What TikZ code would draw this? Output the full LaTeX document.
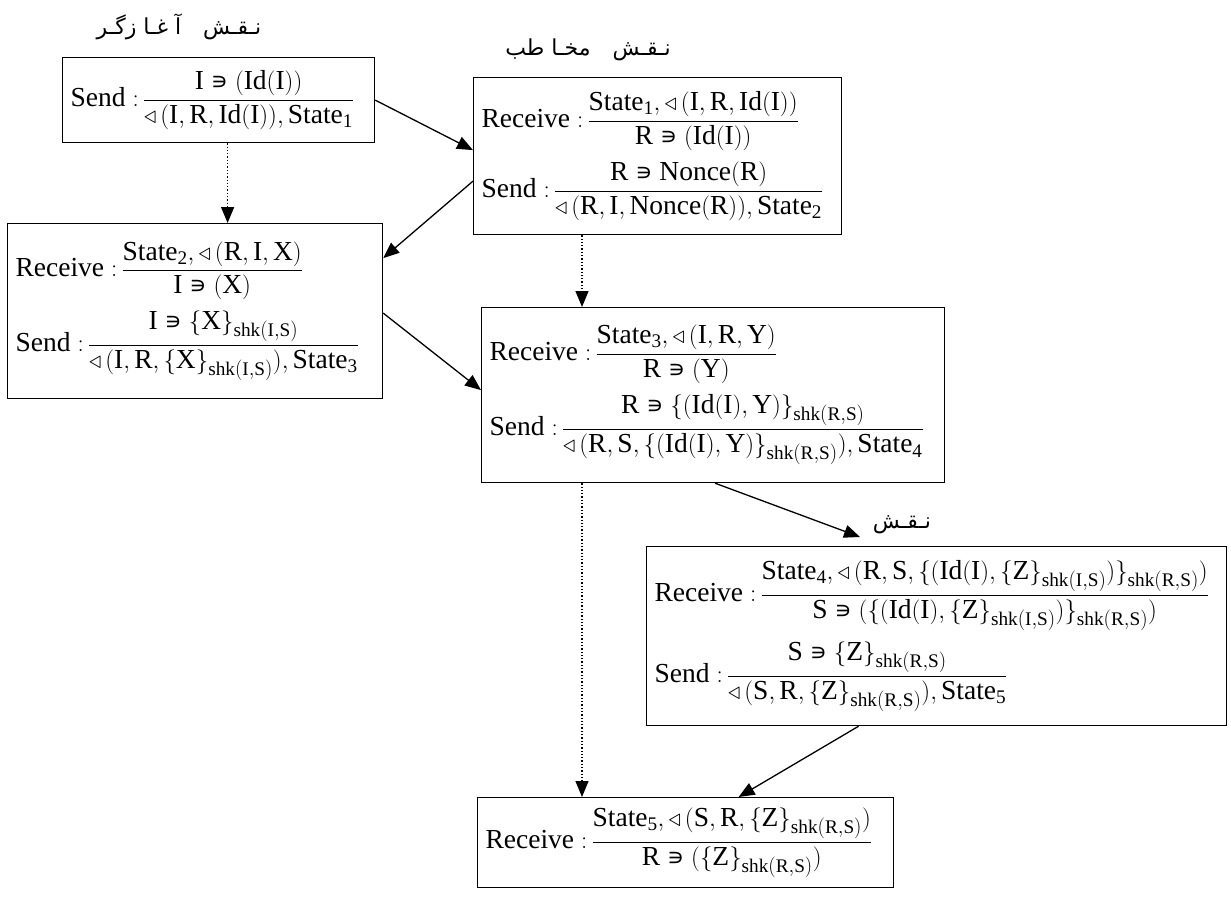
\documentclass[tikz,border=0pt]{standalone}
\usepackage{amsmath}
\usepackage{fontspec}
\setmainfont{Liberation Serif}
\newfontfamily\arabicfont[Script=Arabic]{DejaVu Sans}
\newfontfamily\symfont{DejaVu Sans}
\TeXXeTstate=1
\usetikzlibrary{arrows.meta}
\newcommand{\hasmem}{\mathrel{\mbox{\symfont\fontsize{24}{28}\selectfont ∍}}}
\newcommand{\sendto}{\mathord{\triangleleft}\,}
\newcommand{\msgrule}[3]{$\mathrm{#1}\;{:}\,\dfrac{\mathrm{#2}}{\mathrm{#3}}$}

\begin{document}
\begin{tikzpicture}[x=1pt, y=-1pt,
    rulebox/.style={draw, line width=1.2pt, anchor=north west, align=left,
        inner xsep=8pt, font=\fontsize{27.5}{32}\selectfont},
    msg/.style={-{Triangle[length=16pt,width=13pt]}, line width=1.3pt},
    order/.style={msg, dotted},
    rolelabel/.style={font=\arabicfont\fontsize{22}{26}\selectfont}]
    \useasboundingbox (0,0) rectangle (1231,900);

    % Initiator role
    \node[rolelabel] (initlabel) at (179,27) {\beginR نـقـش\quad آ غـا زگـر\endR};
    \node[rulebox, text width=296pt, minimum height=85pt] (initsend) at (62,57)
        {\msgrule{Send}{I \hasmem (Id(I))}{\sendto(I, R, Id(I)), State_1}};
    \node[rulebox, text width=359pt, minimum height=175pt] (initrecv) at (7,223)
        {\msgrule{Receive}{State_2, \sendto(R, I, X)}{I \hasmem (X)}\\[10pt]
         \msgrule{Send}{I \hasmem \{X\}_{shk(I,S)}}{\sendto(I, R, \{X\}_{shk(I,S)}), State_3}};

    % Responder role
    \node[rolelabel] (resplabel) at (588,50) {\beginR نـقـش\quad مخـا طب\endR};
    \node[rulebox, text width=352pt, minimum height=157pt] (respfirst) at (473,77)
        {\msgrule{Receive}{State_1, \sendto(I, R, Id(I))}{R \hasmem (Id(I))}\\[10pt]
         \msgrule{Send}{R \hasmem Nonce(R)}{\sendto(R, I, Nonce(R)), State_2}};
    \node[rulebox, text width=447pt, minimum height=175pt] (respsecond) at (481,307)
        {\msgrule{Receive}{State_3, \sendto(I, R, Y)}{R \hasmem (Y)}\\[10pt]
         \msgrule{Send}{R \hasmem \{(Id(I), Y)\}_{shk(R,S)}}{\sendto(R, S, \{(Id(I), Y)\}_{shk(R,S)}), State_4}};
    \node[rulebox, text width=400pt, minimum height=90pt] (respthird) at (477,797)
        {\msgrule{Receive}{State_5, \sendto(S, R, \{Z\}_{shk(R,S)})}{R \hasmem (\{Z\}_{shk(R,S)})}};

    % Server role
    \node[rolelabel] (servlabel) at (902,525) {\beginR نـقـش\endR};
    \node[rulebox, text width=564pt, minimum height=179pt] (servbox) at (646,546)
        {\msgrule{Receive}{State_4, \sendto(R, S, \{(Id(I), \{Z\}_{shk(I,S)})\}_{shk(R,S)})}{S \hasmem (\{(Id(I), \{Z\}_{shk(I,S)})\}_{shk(R,S)})}\\[10pt]
         \msgrule{Send}{S \hasmem \{Z\}_{shk(R,S)}}{\sendto(S, R, \{Z\}_{shk(R,S)}), State_5}};

    % Messages
    \coordinate (orderline) at (582,0);
    \coordinate (servtip) at (860,537);
    \draw[msg] (initsend.east) -- ([yshift=6pt]respfirst.west);
    \draw[msg] ([yshift=-25pt]respfirst.west) -- ([yshift=53pt]initrecv.east);
    \draw[msg] ([yshift=-2pt]initrecv.east) -- ([yshift=5pt]respsecond.west);
    \draw[msg] ([xshift=2pt]respsecond.south) -- (servtip);
    \draw[msg] ([xshift=-78pt]servbox.south) -- ([xshift=53pt]respthird.north);

    % Order within a role
    \draw[order] ([xshift=9pt]initsend.south) -- ([xshift=9pt]initsend.south |- initrecv.north);
    \draw[order] (respfirst.south -| orderline) -- (respsecond.north -| orderline);
    \draw[order] (respsecond.south -| orderline) -- (respthird.north -| orderline);
\end{tikzpicture}
\end{document}
